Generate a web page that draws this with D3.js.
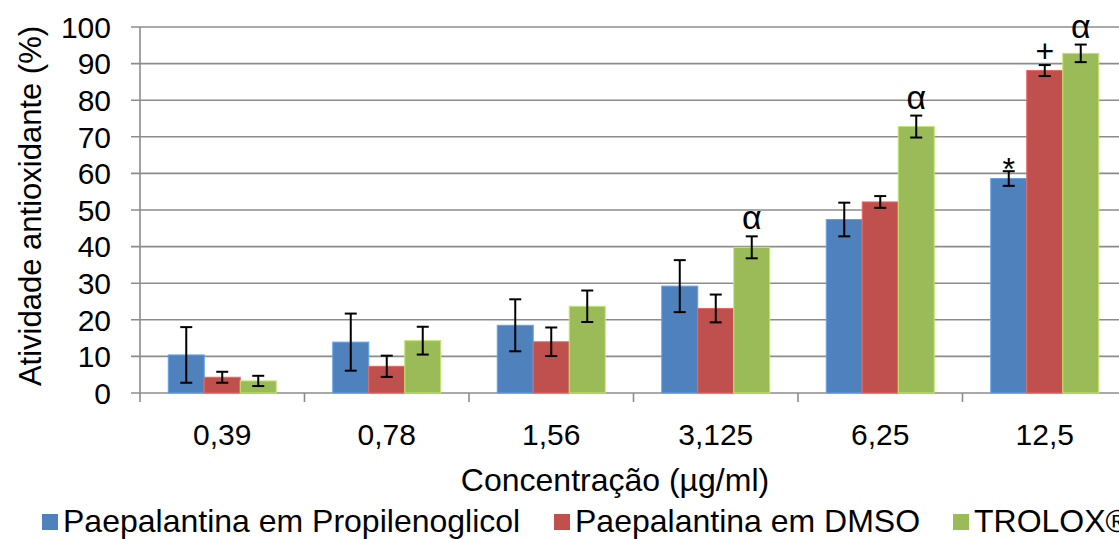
<!DOCTYPE html>
<html>
<head>
<meta charset="utf-8">
<script src="https://cdn.jsdelivr.net/npm/d3@7"></script>
<style>
  body { margin: 0; background: #fff; }
  text { font-family: "Liberation Sans", Arial, sans-serif; fill: #000; }
</style>
</head>
<body>
<svg id="chart" width="1119" height="539"></svg>
<script>
// concentrations (µg/ml)
var categories = ["0,39", "0,78", "1,56", "3,125", "6,25", "12,5"];
var seriesNames = ["Paepalantina em Propilenoglicol", "Paepalantina em DMSO", "TROLOX®"];
var seriesColors = ["#4F81BD", "#C0504D", "#9BBB59"];

// mean activity (%) per series
var propilenoglicol = [10.4, 13.9, 18.5, 29.2, 47.4, 58.6];
var dmso = [4.3, 7.3, 14.0, 23.1, 52.2, 88.1];
var trolox = [3.3, 14.3, 23.7, 39.8, 72.8, 92.8];

// error (±)
var errPropilenoglicol = [7.6, 7.8, 7.1, 7.1, 4.6, 2.0];
var errDmso = [1.5, 2.9, 3.9, 3.8, 1.6, 1.5];
var errTrolox = [1.4, 3.8, 4.3, 3.0, 3.0, 2.4];

// significance marks
var marksPropilenoglicol = ["", "", "", "", "", "*"];
var marksDmso = ["", "", "", "", "", "+"];
var marksTrolox = ["", "", "", "α", "α", "α"];

var yTicks = [0, 10, 20, 30, 40, 50, 60, 70, 80, 90, 100];

var values = [propilenoglicol, dmso, trolox];
var errors = [errPropilenoglicol, errDmso, errTrolox];
var marks = [marksPropilenoglicol, marksDmso, marksTrolox];

var svg = d3.select("#chart");
var plotLeft = 140, plotTop = 27, plotRight = 1127, plotBottom = 393;

var x0 = d3.scaleBand()
  .domain(categories)
  .range([plotLeft, plotRight])
  .padding(0);

var x1 = d3.scaleBand()
  .domain(d3.range(seriesNames.length))
  .range([0, x0.bandwidth()])
  .paddingInner(0)
  .paddingOuter(0.785);

var y = d3.scaleLinear()
  .domain([0, 100])
  .range([plotBottom, plotTop]);

// gridlines
svg.append("g")
  .selectAll("line")
  .data(yTicks)
  .join("line")
  .attr("x1", plotLeft - 9)
  .attr("x2", 1119)
  .attr("y1", d => y(d))
  .attr("y2", d => y(d))
  .style("stroke", "#8c8c8c")
  .style("stroke-width", 1.6);

// y axis line
svg.append("line")
  .attr("x1", plotLeft).attr("x2", plotLeft)
  .attr("y1", plotTop).attr("y2", plotBottom + 9)
  .style("stroke", "#8c8c8c")
  .style("stroke-width", 1.6);

// y tick labels
svg.append("g")
  .selectAll("text")
  .data(yTicks)
  .join("text")
  .attr("x", 111)
  .attr("y", d => y(d))
  .attr("dy", "0.36em")
  .attr("text-anchor", "end")
  .style("font-size", "30px")
  .text(d => d);

// x ticks
svg.append("g")
  .selectAll("line")
  .data(categories.slice(1))
  .join("line")
  .attr("x1", d => x0(d)).attr("x2", d => x0(d))
  .attr("y1", plotBottom).attr("y2", plotBottom + 9)
  .style("stroke", "#8c8c8c")
  .style("stroke-width", 1.6);

// x labels
svg.append("g")
  .selectAll("text")
  .data(categories)
  .join("text")
  .attr("x", d => x0(d) + x0.bandwidth() / 2)
  .attr("y", 445)
  .attr("text-anchor", "middle")
  .style("font-size", "30px")
  .text(d => d);

// bars
var rows = [];
values.forEach(function(vals, s){
  vals.forEach(function(v, i){
    rows.push({s: s, cat: categories[i], v: v, e: errors[s][i], m: marks[s][i]});
  });
});

svg.append("g")
  .selectAll("rect")
  .data(rows)
  .join("rect")
  .attr("x", d => x0(d.cat) + x1(d.s))
  .attr("y", d => y(d.v))
  .attr("width", x1.bandwidth())
  .attr("height", d => y(0) - y(d.v))
  .style("fill", d => seriesColors[d.s])
  .style("stroke", d => d3.color(seriesColors[d.s]).brighter(0.6))
  .style("stroke-width", 1);

// error bars
var eb = svg.append("g")
  .selectAll("g")
  .data(rows)
  .join("g")
  .attr("transform", d => "translate(" + (x0(d.cat) + x1(d.s) + x1.bandwidth() / 2) + ",0)")
  .style("stroke", "#000")
  .style("stroke-width", 2);

eb.append("line")
  .attr("y1", d => y(d.v + d.e))
  .attr("y2", d => y(d.v - d.e));
eb.append("line")
  .attr("x1", -6).attr("x2", 6)
  .attr("y1", d => y(d.v + d.e))
  .attr("y2", d => y(d.v + d.e));
eb.append("line")
  .attr("x1", -6).attr("x2", 6)
  .attr("y1", d => y(d.v - d.e))
  .attr("y2", d => y(d.v - d.e));

// significance marks (offset of the baseline above the error cap)
var markOffset = {"*": -9, "+": 3, "α": 7};
var markSize = {"*": 32, "+": 32, "α": 34};
svg.append("g")
  .selectAll("text")
  .data(rows.filter(d => d.m))
  .join("text")
  .attr("x", d => x0(d.cat) + x1(d.s) + x1.bandwidth() / 2)
  .attr("y", d => y(d.v + d.e) - markOffset[d.m])
  .attr("text-anchor", "middle")
  .style("font-size", d => markSize[d.m] + "px")
  .text(d => d.m);

// axis titles
svg.append("text")
  .attr("transform", "translate(41,206) rotate(-90)")
  .attr("text-anchor", "middle")
  .style("font-size", "31px")
  .text("Atividade antioxidante (%)");

svg.append("text")
  .attr("x", 615)
  .attr("y", 491)
  .attr("text-anchor", "middle")
  .style("font-size", "32px")
  .text("Concentração (µg/ml)");

// legend
var legendX = [42, 554, 953];
var lg = svg.append("g")
  .selectAll("g")
  .data(seriesNames)
  .join("g")
  .attr("transform", (d, i) => "translate(" + legendX[i] + ",514)");

lg.append("rect")
  .attr("width", 16).attr("height", 16)
  .style("fill", (d, i) => seriesColors[i]);

lg.append("text")
  .attr("x", 21)
  .attr("y", 18)
  .style("font-size", "32px")
  .text(d => d);
</script>
</body>
</html>
